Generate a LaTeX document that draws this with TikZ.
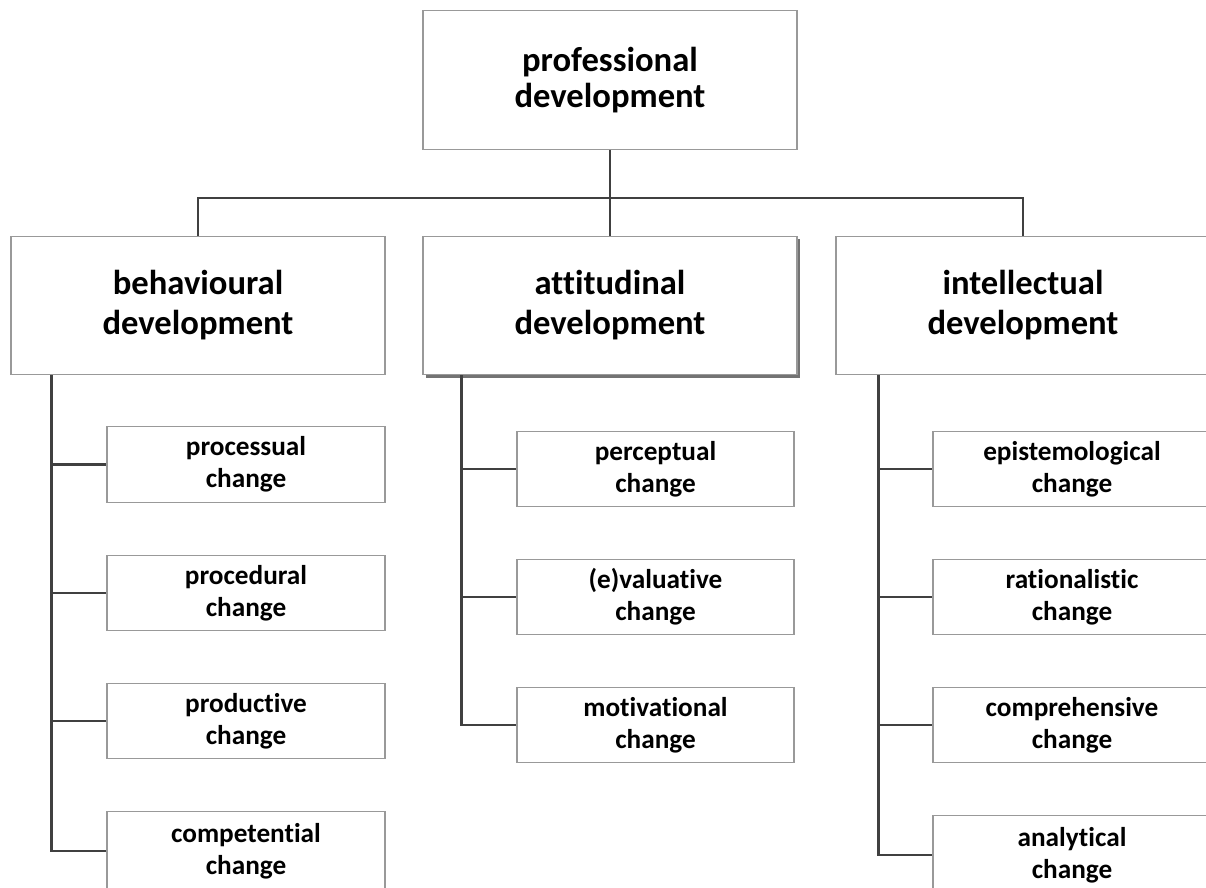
\documentclass[tikz,border=0pt]{standalone}
\usepackage{fontspec}
\setmainfont{Carlito}[Ligatures=NoCommon]
\usetikzlibrary{shadows}
\tikzset{
  box/.style={draw=black!40, line width=0.6pt, fill=white, align=center, inner sep=0pt, font=\bfseries},
  bigbox/.style={box, minimum width=7.48cm, minimum height=2.77cm},
  subbox/.style={box, minimum width=5.56cm, minimum height=1.51cm, font=\bfseries\fontsize{15.5}{18.2}\selectfont},
  link/.style={draw=black!75, line width=1.3pt},
}
\begin{document}
\begin{tikzpicture}
			\useasboundingbox (0,0) rectangle (24.12,-17.74);
			\clip (0,0) rectangle (24.12,-17.74);

			\node[bigbox, font=\bfseries\fontsize{19.7}{20.5}\selectfont] at (12.2,-1.6) (prof) {professional\\development};

			\node[bigbox, font=\bfseries\fontsize{19.7}{22.8}\selectfont] at (3.96,-6.11) (beh) {behavioural\\development};
			\node[bigbox, font=\bfseries\fontsize{19.7}{22.8}\selectfont, drop shadow={shadow xshift=0.06cm, shadow yshift=-0.06cm, fill=black!55, opacity=1}] at (12.2,-6.11) (att) {attitudinal\\development};
			\node[bigbox, font=\bfseries\fontsize{19.7}{22.8}\selectfont] at (20.46,-6.11) (int) {intellectual\\development};

			\coordinate (bus) at (12.2,-3.96);
			\draw[link] (prof.south)--(att.north);
			\draw[link] (beh.north) |- (bus) -| (int.north);

			% behavioural
			\node[subbox] at (4.92,-9.29) (b1) {processual\\change};
			\node[subbox] at (4.92,-11.86) (b2) {procedural\\change};
			\node[subbox] at (4.92,-14.42) (b3) {productive\\change};
			\node[subbox, minimum height=1.6cm] at (4.92,-17.025) (b4) {competential\\change};
			\foreach \c in {b1,b2,b3,b4}
				\draw[link] ([xshift=0.82cm]beh.south west) |- (\c.west);

			% attitudinal
			\node[subbox, minimum width=5.54cm] at (13.11,-9.38) (a1) {perceptual\\change};
			\node[subbox, minimum width=5.54cm] at (13.11,-11.94) (a2) {(e)valuative\\change};
			\node[subbox, minimum width=5.54cm] at (13.11,-14.5) (a3) {motivational\\change};
			\foreach \c in {a1,a2,a3}
				\draw[link] ([xshift=0.78cm]att.south west) |- (\c.west);

			% intellectual
			\node[subbox] at (21.44,-9.38) (i1) {epistemological\\change};
			\node[subbox] at (21.44,-11.94) (i2) {rationalistic\\change};
			\node[subbox] at (21.44,-14.5) (i3) {comprehensive\\change};
			\node[subbox, minimum height=1.6cm] at (21.44,-17.105) (i4) {analytical\\change};
			\foreach \c in {i1,i2,i3,i4}
				\draw[link] ([xshift=0.86cm]int.south west) |- (\c.west);
		\end{tikzpicture}
\end{document}
